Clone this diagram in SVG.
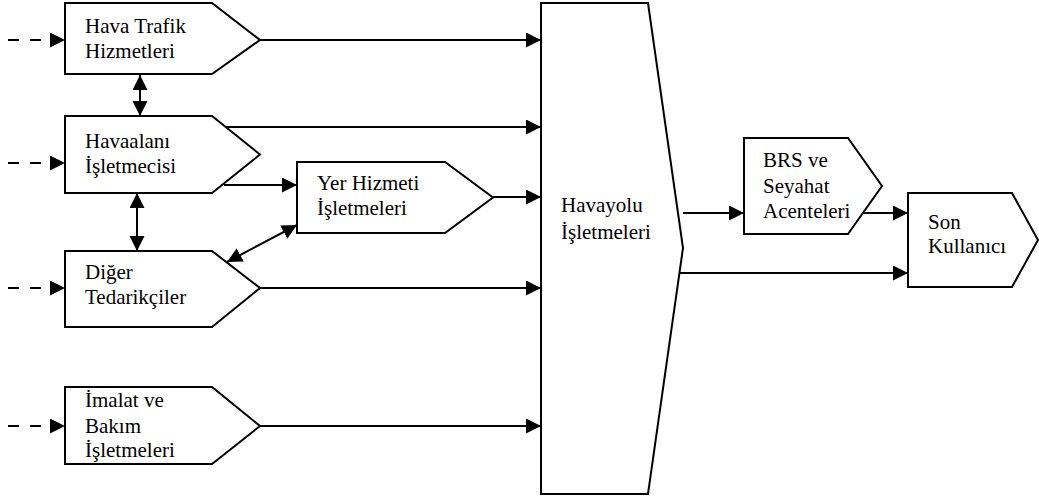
<svg xmlns="http://www.w3.org/2000/svg" width="1039" height="499" viewBox="0 0 1039 499">
<defs>
<marker id="ah" markerUnits="userSpaceOnUse" markerWidth="16" markerHeight="16" refX="15" refY="7.5" orient="auto-start-reverse">
<path d="M0,0 L15,7.5 L0,15 z" fill="#000"/>
</marker>
</defs>
<rect width="1039" height="499" fill="#fff"/>
<g id="connectors" stroke="#000" stroke-width="2" fill="none" marker-end="url(#ah)">
<g stroke-dasharray="11 11">
<line x1="8" y1="40" x2="65" y2="40"/>
<line x1="8" y1="163" x2="65" y2="163"/>
<line x1="8" y1="288" x2="65" y2="288"/>
<line x1="8" y1="426" x2="65" y2="426"/>
</g>
<line x1="260" y1="40" x2="541" y2="40"/>
<line x1="225" y1="127" x2="541" y2="127"/>
<line x1="493" y1="197" x2="541" y2="197"/>
<line x1="260" y1="288" x2="541" y2="288"/>
<line x1="260" y1="426" x2="541" y2="426"/>
<line x1="224" y1="185" x2="297" y2="185"/>
<g marker-start="url(#ah)">
<line x1="140" y1="75" x2="140" y2="116"/>
<line x1="137" y1="193" x2="137" y2="251"/>
<line x1="297" y1="225" x2="227" y2="262"/>
</g>
<line x1="683" y1="213" x2="744" y2="213"/>
<line x1="862" y1="213" x2="908" y2="213"/>
<line x1="680" y1="273" x2="908" y2="273"/>
</g>
<g font-family="Liberation Serif" font-size="21" fill="#000">
<g id="hava-trafik">
<polygon fill="#fff" stroke="#000" stroke-width="2" points="65,3 212,3 260,40 212,74 65,74"/>
<text x="85" y="33">Hava Trafik</text>
<text x="85" y="58">Hizmetleri</text>
</g>
<g id="havaalani">
<polygon fill="#fff" stroke="#000" stroke-width="2" points="65,116 212,116 260,154.5 212,193 65,193"/>
<text x="85" y="148">Havaalanı</text>
<text x="85" y="173">İşletmecisi</text>
</g>
<g id="diger">
<polygon fill="#fff" stroke="#000" stroke-width="2" points="65,251 212,251 260,288 212,327 65,327"/>
<text x="85" y="279">Diğer</text>
<text x="85" y="304">Tedarikçiler</text>
</g>
<g id="imalat">
<polygon fill="#fff" stroke="#000" stroke-width="2" points="65,387 212,387 260,426 212,464 65,464"/>
<text x="85" y="407">İmalat ve</text>
<text x="85" y="433">Bakım</text>
<text x="85" y="457">İşletmeleri</text>
</g>
<g id="yer-hizmeti">
<polygon fill="#fff" stroke="#000" stroke-width="2" points="297,162 445,162 493,197.5 445,233 297,233"/>
<text x="317" y="190">Yer Hizmeti</text>
<text x="317" y="215">İşletmeleri</text>
</g>
<g id="havayolu">
<polygon fill="#fff" stroke="#000" stroke-width="2" points="541,3 648,3 683,248 648,494 541,494"/>
<text x="561" y="212">Havayolu</text>
<text x="561" y="239">İşletmeleri</text>
</g>
<g id="brs">
<polygon fill="#fff" stroke="#000" stroke-width="2" points="744,138 848,138 882,186 848,234 744,234"/>
<text x="763" y="167">BRS ve</text>
<text x="763" y="193">Seyahat</text>
<text x="763" y="218">Acenteleri</text>
</g>
<g id="son-kullanici">
<polygon fill="#fff" stroke="#000" stroke-width="2" points="908,193 1012,193 1038,240 1012,287 908,287"/>
<text x="928" y="229">Son</text>
<text x="928" y="253">Kullanıcı</text>
</g>
</g>
</svg>
